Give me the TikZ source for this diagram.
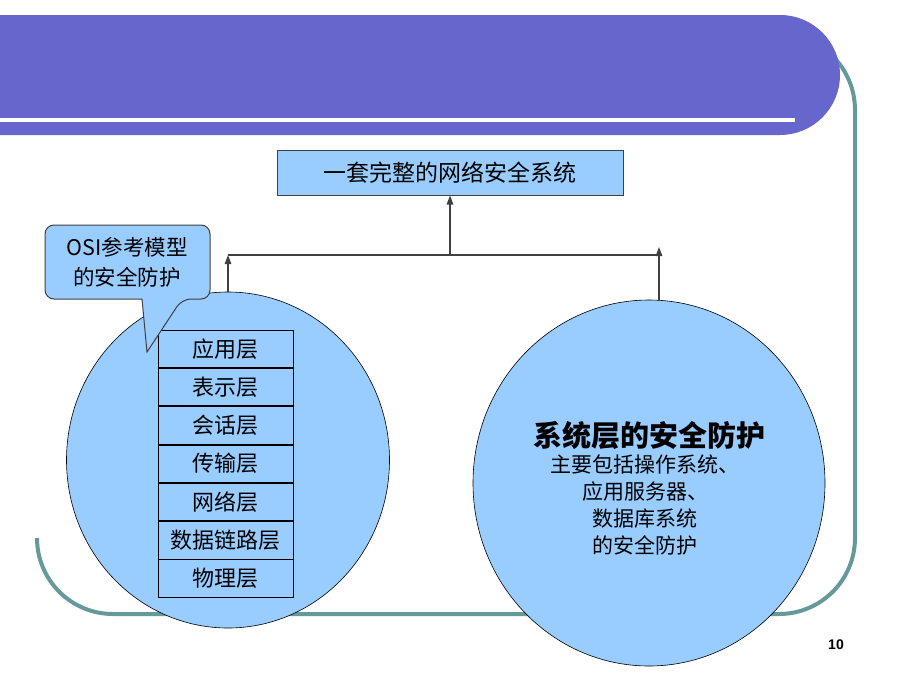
\documentclass[tikz,border=0pt]{standalone}
\usepackage{fontspec}
\newfontfamily\cjk{Noto Sans CJK SC}
\newfontfamily\numfont{Liberation Sans}
\usetikzlibrary{positioning}
\usetikzlibrary{shapes.geometric}
\usetikzlibrary{arrows.meta}
\definecolor{bannerblue}{HTML}{6666CC}
\definecolor{skyfill}{HTML}{99CCFF}
\definecolor{framegreen}{HTML}{669999}
\definecolor{linegray}{HTML}{404040}

\begin{document}
\begin{tikzpicture}[x=1pt,y=-1pt,
    tip/.style={-{Triangle[length=9pt,width=6.5pt]}},
    topbox/.style={draw=linegray,line width=1pt,fill=skyfill,minimum width=346pt,minimum height=45pt,inner sep=0pt,font=\cjk\fontsize{23}{27}\selectfont},
    layer/.style={draw=black,line width=0.8pt,fill=skyfill,minimum width=135pt,minimum height=37.5pt,inner sep=0pt,font=\cjk\fontsize{22}{25}\selectfont},
    blob/.style={ellipse,draw=black,line width=0.6pt,fill=skyfill,inner sep=0pt},
    link/.style={draw=linegray,line width=1.2pt}]
\useasboundingbox (0,0) rectangle (900,675);
% frame and title bar
\draw[framegreen,line width=4pt] (37,538) arc[start angle=180,end angle=90,radius=76]
    -- (779,614) arc[start angle=90,end angle=0,radius=76]
    -- (855,110) arc[start angle=0,end angle=-90,radius=76];
\fill[bannerblue] (0,15) -- (780,15) arc[start angle=-90,end angle=90,radius=60] -- (0,135) -- cycle;
\draw[white,line width=3.5pt] (0,120) -- (795,120);
% the two parts
\node[blob,minimum width=323pt,minimum height=336pt] (osi) at (228,460) {};
\node[blob,minimum width=352pt,minimum height=366pt] (sys) at (649,483) {};
\node[topbox] (whole) at (450,172.5) {一套完整的网络安全系统};
% connectors
\coordinate (join) at (450,255);
\coordinate (rtip) at (659,247);
\draw[link] (osi.north |- join) -- (rtip |- join);
\draw[link,tip] (join) -- (whole.south);
\draw[link,tip] (osi.north) -- (osi.north |- join);
\draw[link,tip] (rtip |- sys.north) -- (rtip);
% OSI layers
\node[layer] (app) at (225.5,348.75) {应用层};
\node[layer,below=0pt of app] (pres) {表示层};
\node[layer,below=0pt of pres] (sess) {会话层};
\node[layer,below=0pt of sess] (trans) {传输层};
\node[layer,below=0pt of trans] (net) {网络层};
\node[layer,below=0pt of net] (link) {数据链路层};
\node[layer,below=0pt of link] (phys) {物理层};
% callout
\filldraw[fill=skyfill,draw=linegray,line width=1pt,rounded corners=9pt]
    (45,262) |- (210,225) |- (182,299) [sharp corners] -- (147,352) -- (142,299)
    [rounded corners=9pt] -| (45,262) -- cycle;
\node[font=\cjk\fontsize{21.5}{30}\selectfont,align=center] (note) at (127,262) {OSI参考模型\\的安全防护};
% system side
\node[font=\cjk\bfseries\fontsize{29}{33}\selectfont] (systitle) at (649,435) {系统层的安全防护};
\node[font=\cjk\fontsize{21}{27}\selectfont,align=center] (sysbody) at (645,505) {主要包括操作系统、\\应用服务器、\\数据库系统\\的安全防护};
\node[font=\numfont\bfseries\fontsize{14}{16}\selectfont] (pageno) at (836,645) {10};
\end{tikzpicture}
\end{document}
